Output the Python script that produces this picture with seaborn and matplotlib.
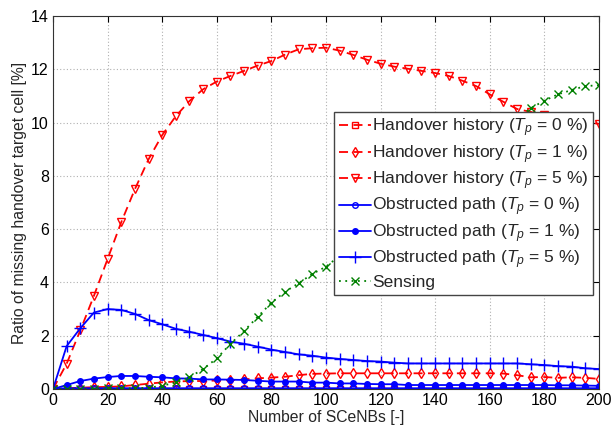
import numpy as np
import pandas as pd
import matplotlib
matplotlib.use("Agg")
import matplotlib.pyplot as plt
import seaborn as sns

# Number of SCeNBs (x axis)
scenbs = list(range(0, 205, 5))

# Ratio of missing handover target cell [%]
ho_tp0 = [0.0] * 41
ho_tp1 = [0.0, 0.03, 0.05, 0.07, 0.08, 0.10, 0.15, 0.20, 0.25, 0.28, 0.30, 0.30, 0.32, 0.33,
          0.36, 0.40, 0.43, 0.46, 0.52, 0.57, 0.58, 0.59, 0.59, 0.59, 0.59, 0.59, 0.59, 0.59,
          0.59, 0.59, 0.59, 0.59, 0.59, 0.58, 0.52, 0.44, 0.45, 0.42, 0.44, 0.42, 0.38]
ho_tp5 = [0.0, 0.95, 2.2, 3.5, 4.88, 6.26, 7.5, 8.62, 9.53, 10.24, 10.81, 11.25, 11.54, 11.75,
          11.94, 12.14, 12.31, 12.55, 12.75, 12.79, 12.81, 12.70, 12.54, 12.36, 12.21, 12.10,
          12.02, 11.94, 11.86, 11.75, 11.57, 11.37, 11.06, 10.78, 10.51, 10.40, 10.30, 10.20,
          10.10, 10.03, 9.95]
op_tp0 = [0.0] + [0.03] * 40
op_tp1 = [0.0, 0.15, 0.30, 0.39, 0.45, 0.49, 0.49, 0.46, 0.44, 0.40, 0.39, 0.36, 0.36, 0.35,
          0.34, 0.31, 0.28, 0.28, 0.28, 0.24, 0.24, 0.21, 0.21, 0.19, 0.18, 0.18, 0.15, 0.15,
          0.15, 0.15, 0.15, 0.15, 0.15, 0.15, 0.15, 0.15, 0.15, 0.14, 0.14, 0.13, 0.12]
op_tp5 = [0.0, 1.61, 2.28, 2.87, 3.0, 2.97, 2.82, 2.59, 2.43, 2.26, 2.15, 2.03, 1.91, 1.78,
          1.70, 1.59, 1.48, 1.39, 1.30, 1.25, 1.18, 1.13, 1.09, 1.05, 1.03, 0.99, 0.96, 0.96,
          0.96, 0.96, 0.96, 0.96, 0.96, 0.96, 0.96, 0.93, 0.90, 0.86, 0.84, 0.78, 0.75]
sensing = [0.0, 0.0, 0.0, 0.01, 0.02, 0.03, 0.03, 0.05, 0.12, 0.25, 0.44, 0.75, 1.15, 1.69,
           2.18, 2.71, 3.24, 3.65, 3.97, 4.32, 4.59, 5.0, 5.4, 5.8, 6.2, 6.6, 7.0, 7.4, 7.8,
           8.2, 8.6, 9.0, 9.4, 9.8, 10.15, 10.54, 10.82, 11.06, 11.22, 11.37, 11.4]

labels = [
    r"Handover history ($T_p$ = 0 %)",
    r"Handover history ($T_p$ = 1 %)",
    r"Handover history ($T_p$ = 5 %)",
    r"Obstructed path ($T_p$ = 0 %)",
    r"Obstructed path ($T_p$ = 1 %)",
    r"Obstructed path ($T_p$ = 5 %)",
    "Sensing",
]

sns.set_theme(style="white")
plt.rcParams["font.family"] = ["Liberation Sans", "DejaVu Sans"]
plt.rcParams["mathtext.fontset"] = "custom"
plt.rcParams["mathtext.rm"] = "Liberation Sans"
plt.rcParams["mathtext.it"] = "Liberation Sans:italic"

red, blue, green = (1, 0, 0), (0, 0, 1), (0, 0.5, 0)
styles = [
    dict(color=red, linestyle=(0, (5, 3)), marker="s", ms=5, mfc="none"),
    dict(color=red, linestyle=(0, (5, 3)), marker="d", ms=5, mfc="none"),
    dict(color=red, linestyle=(0, (5, 3)), marker="v", ms=6, mfc="none"),
    dict(color=blue, linestyle="-", marker="o", ms=4, mfc="none"),
    dict(color=blue, linestyle="-", marker="o", ms=4, mfc=blue),
    dict(color=blue, linestyle="-", marker="+", ms=8, mfc="none"),
    dict(color=green, linestyle=(0, (1, 2.5)), marker="x", ms=6, mfc="none"),
]
series = [ho_tp0, ho_tp1, ho_tp5, op_tp0, op_tp1, op_tp5, sensing]

fig = plt.figure(figsize=(6.12, 4.30), dpi=100)
ax = fig.add_axes([0.0866, 0.0953, 0.892, 0.8675])

for vals, lab, st in zip(series, labels, styles):
    df = pd.DataFrame({"x": scenbs, "y": vals})
    sns.lineplot(data=df, x="x", y="y", ax=ax, label=lab, estimator=None,
                 color=st["color"], linestyle=st["linestyle"], marker=st["marker"],
                 markersize=st["ms"], markerfacecolor=st["mfc"],
                 markeredgecolor=st["color"], markeredgewidth=1.0, linewidth=1.3)

ax.set_xlim(0, 200)
ax.set_ylim(0, 14)
ax.set_xticks(range(0, 201, 20))
ax.set_yticks(range(0, 15, 2))
ax.grid(True, color="#b0b0b0", linestyle=(0, (1, 2)), linewidth=0.8)
ax.tick_params(direction="in", length=4, width=0.8, top=True, right=True,
               labelsize=11.5, colors="black", pad=3)
for s in ax.spines.values():
    s.set_color("#333333")
    s.set_linewidth(0.8)
ax.set_xlabel("Number of SCeNBs [-]", fontsize=11.3, labelpad=1)
ax.set_ylabel("Ratio of missing handover target cell [%]", fontsize=11.3, labelpad=3)

leg = ax.legend(loc="upper right", bbox_to_anchor=(0.989, 0.742), fontsize=12.5,
                frameon=True, fancybox=False, framealpha=1, edgecolor="#444444",
                handlelength=1.85, handletextpad=0.08, borderpad=0.25,
                labelspacing=0.22, borderaxespad=0)
leg.get_frame().set_linewidth(1.0)

fig.savefig("out.png", dpi=100)
